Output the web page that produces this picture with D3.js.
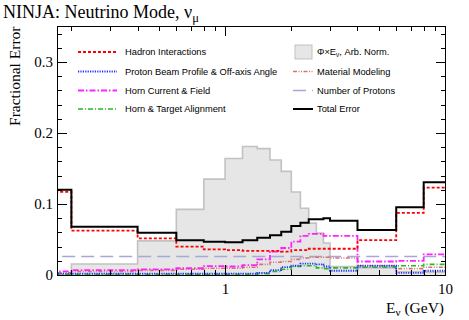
<!DOCTYPE html>
<html><head><meta charset="utf-8">
<script src="https://cdn.jsdelivr.net/npm/d3@7"></script>
<style>
body{margin:0;background:#fff;}
svg{display:block;}
.tk line{stroke:#000;stroke-width:1;shape-rendering:crispEdges;}
.tk path{display:none;}
.tk text{font-family:"Liberation Serif","Times New Roman",serif;font-size:15px;fill:#000;}
.leg{font-family:"Liberation Sans",Arial,sans-serif;font-size:9.3px;fill:#000;}
</style></head>
<body>
<script>
// Bin edges (GeV)
const binEdges = [0.1, 0.2, 0.4, 0.6, 0.8, 1.0, 1.2, 1.4, 1.6, 1.8, 2.0, 2.2, 2.4, 2.6, 2.8, 3.0, 4.0, 6.0, 8.0, 10.0];
// Series (fractional errors per bin)
const fluxShape      = [0, 0.0155, 0.048, 0.0925, 0.135, 0.164, 0.181, 0.178, 0.162, 0.146, 0.117, 0.094, 0.073, 0.059, 0.045, 0.012, 0.010, 0.005, 0.004];
const hadron         = [0.117, 0.0625, 0.0517, 0.040, 0.036, 0.035, 0.034, 0.034, 0.034, 0.033, 0.035, 0.035, 0.037, 0.037, 0.037, 0.037, 0.049, 0.0875, 0.123];
const protonBeam     = [0.002, 0.002, 0.002, 0.002, 0.002, 0.002, 0.002, 0.003, 0.007, 0.011, 0.013, 0.016, 0.016, 0.015, 0.012, 0.006, 0.013, 0.003, 0.006];
const hornCurrent    = [0.005, 0.007, 0.008, 0.0095, 0.0125, 0.012, 0.014, 0.022, 0.033, 0.038, 0.047, 0.055, 0.058, 0.058, 0.055, 0.055, 0.019, 0.020, 0.029];
const hornAlign      = [0.001, 0.001, 0.001, 0.001, 0.001, 0.001, 0.001, 0.002, 0.005, 0.008, 0.012, 0.013, 0.013, 0.010, 0.009, 0.010, 0.011, 0.013, 0.015];
const material       = [0.003, 0.005, 0.0065, 0.008, 0.0095, 0.0095, 0.011, 0.015, 0.018, 0.019, 0.022, 0.024, 0.025, 0.025, 0.025, 0.024, 0.013, 0.009, 0.011];
const nProtons       = [0.026, 0.026, 0.026, 0.026, 0.026, 0.026, 0.026, 0.026, 0.026, 0.026, 0.026, 0.026, 0.026, 0.026, 0.026, 0.026, 0.026, 0.026, 0.026];
const totalError     = [0.120, 0.068, 0.0596, 0.049, 0.047, 0.046, 0.049, 0.0525, 0.056, 0.061, 0.069, 0.0737, 0.0785, 0.0785, 0.080, 0.0765, 0.0634, 0.0953, 0.1306];
// Axis
const xDomain = [0.172, 10];
const yDomain = [0, 0.35];
const yTickLabels = [0, 0.1, 0.2, 0.3];
const xTickLabels = [1, 10];

const W = 469, H = 320;
const m = {l:57, r:24, t:26.5, b:45};
const svg = d3.select("body").append("svg").attr("width", W).attr("height", H);
const x = d3.scaleLog().domain(xDomain).range([m.l, W - m.r]);
const y = d3.scaleLinear().domain(yDomain).range([H - m.b, m.t]);

svg.append("clipPath").attr("id","clip").append("rect")
  .attr("x", m.l).attr("y", m.t).attr("width", W-m.r-m.l).attr("height", H-m.b-m.t);

function steps(vals){
  const pts = [];
  vals.forEach((v,i)=>{ pts.push([binEdges[i], v]); pts.push([binEdges[i+1], v]); });
  return pts;
}
const g = svg.append("g").attr("clip-path","url(#clip)");
const area = d3.area().x(d=>x(d[0])).y0(y(0)).y1(d=>y(d[1]));
const line = d3.line().x(d=>x(d[0])).y(d=>y(d[1]));

// flux shape
const fp = steps(fluxShape);
g.append("path").attr("d", area(fp)).attr("fill","#e6e6e6");
g.append("path").attr("d", line(fp)).attr("fill","none").attr("stroke","#c2c2c2").attr("stroke-width",1.6);

const series = [
  {vals: nProtons,    color:"#a8a8d8", dash:"13,6",         w:1.6, name:"Number of Protons"},
  {vals: material,    color:"#d87070", dash:"4,1.5,1,1.5,1,1.5", w:1.6, name:"Material Modeling"},
  {vals: hornAlign,   color:"#22bb22", dash:"5,2,1,2",      w:1.6, name:"Horn & Target Alignment"},
  {vals: protonBeam,  color:"#2233ff", dash:"1.2,1.2",      w:1.8, name:"Proton Beam Profile & Off-axis Angle"},
  {vals: hornCurrent, color:"#ff22ff", dash:"6,2,1.5,2",    w:1.8, name:"Horn Current & Field"},
  {vals: hadron,      color:"#ff0000", dash:"3,2",          w:1.8, name:"Hadron Interactions"},
  {vals: totalError,  color:"#000000", dash:null,           w:2,   name:"Total Error"}
];
series.forEach(s=>{
  const p = g.append("path").attr("d", line(steps(s.vals))).attr("fill","none")
    .attr("stroke", s.color).attr("stroke-width", s.w);
  if (s.dash) p.attr("stroke-dasharray", s.dash);
});

// frame
svg.append("rect").attr("x", m.l).attr("y", m.t).attr("width", W-m.r-m.l).attr("height", H-m.b-m.t)
  .attr("fill","none").attr("stroke","#000").attr("stroke-width",1).attr("shape-rendering","crispEdges");

// axes
const yMinor = d3.range(0, 0.351, 0.02).filter(v=>Math.abs(v*10-Math.round(v*10))>1e-6);
svg.append("g").attr("class","tk").attr("transform",`translate(${m.l},0)`)
  .call(d3.axisLeft(y).tickValues(yTickLabels).tickSize(-10).tickPadding(4).tickFormat(d3.format("")));
svg.append("g").attr("class","tk").attr("transform",`translate(${m.l},0)`)
  .call(d3.axisLeft(y).tickValues(yMinor).tickSize(-5).tickFormat(""));
svg.append("g").attr("class","tk").attr("transform",`translate(${W-m.r},0)`)
  .call(d3.axisRight(y).tickValues(yTickLabels).tickSize(-9).tickFormat(""));
svg.append("g").attr("class","tk").attr("transform",`translate(${W-m.r},0)`)
  .call(d3.axisRight(y).tickValues(yMinor).tickSize(-4.5).tickFormat(""));

const xMinor = [0.2,0.3,0.4,0.5,0.6,0.7,0.8,0.9,2,3,4,5,6,7,8,9];
svg.append("g").attr("class","tk").attr("transform",`translate(0,${H-m.b})`)
  .call(d3.axisBottom(x).tickValues(xTickLabels).tickSize(-10).tickPadding(8).tickFormat(d3.format("")));
svg.append("g").attr("class","tk").attr("transform",`translate(0,${H-m.b})`)
  .call(d3.axisBottom(x).tickValues(xMinor).tickSize(-5).tickFormat(""));
svg.append("g").attr("class","tk").attr("transform",`translate(0,${m.t})`)
  .call(d3.axisTop(x).tickValues(xTickLabels).tickSize(-9).tickFormat(""));
svg.append("g").attr("class","tk").attr("transform",`translate(0,${m.t})`)
  .call(d3.axisTop(x).tickValues(xMinor).tickSize(-4.5).tickFormat(""));

// titles
const serif = '"Liberation Serif","Times New Roman",serif';
const t = svg.append("text").attr("x", 3).attr("y", 17.5).attr("font-family", serif).attr("font-size", 18);
t.append("tspan").text("NINJA: Neutrino Mode, ν");
t.append("tspan").attr("font-size", 12.5).attr("dy", 4).text("μ");

svg.append("text").attr("transform", `translate(20,${m.t}) rotate(-90)`).attr("text-anchor","end")
  .attr("font-family", serif).attr("font-size", 15.5).text("Fractional Error");

const xl = svg.append("text").attr("x", W-m.r-1).attr("y", 313).attr("text-anchor","end")
  .attr("font-family", serif).attr("font-size", 15.5);
xl.append("tspan").text("E");
xl.append("tspan").attr("font-size", 11).attr("dy", 3).text("ν");
xl.append("tspan").attr("dy", -3).text(" (GeV)");

// legend
const legLeft = [series[5], series[3], series[4], series[2]];
const rowsY = [52, 71.5, 90.5, 109];
legLeft.forEach((s,i)=>{
  const ln = svg.append("line").attr("x1",78).attr("x2",117).attr("y1",rowsY[i]).attr("y2",rowsY[i])
    .attr("stroke",s.color).attr("stroke-width",s.w);
  if (s.dash) ln.attr("stroke-dasharray", s.dash);
  svg.append("text").attr("class","leg").attr("x",125).attr("y",rowsY[i]+3.3).text(s.name);
});
// right column
svg.append("rect").attr("x",295).attr("y",45).attr("width",17).attr("height",14)
  .attr("fill","#e6e6e6").attr("stroke","#c2c2c2").attr("stroke-width",1);
const ft = svg.append("text").attr("class","leg").attr("x",317).attr("y",rowsY[0]+3.3);
ft.append("tspan").text("Φ×E");
ft.append("tspan").attr("font-size",6.5).attr("dy",2).text("ν");
ft.append("tspan").attr("dy",-2).text(", Arb. Norm.");
const legRight = [series[1], series[0], series[6]];
legRight.forEach((s,i)=>{
  const yy = rowsY[i+1];
  const ln = svg.append("line").attr("x1",293).attr("x2",313).attr("y1",yy).attr("y2",yy)
    .attr("stroke",s.color).attr("stroke-width",s.w);
  if (s.dash) ln.attr("stroke-dasharray", s.dash);
  svg.append("text").attr("class","leg").attr("x",317).attr("y",yy+3.3).text(s.name);
});
</script>
</body></html>
